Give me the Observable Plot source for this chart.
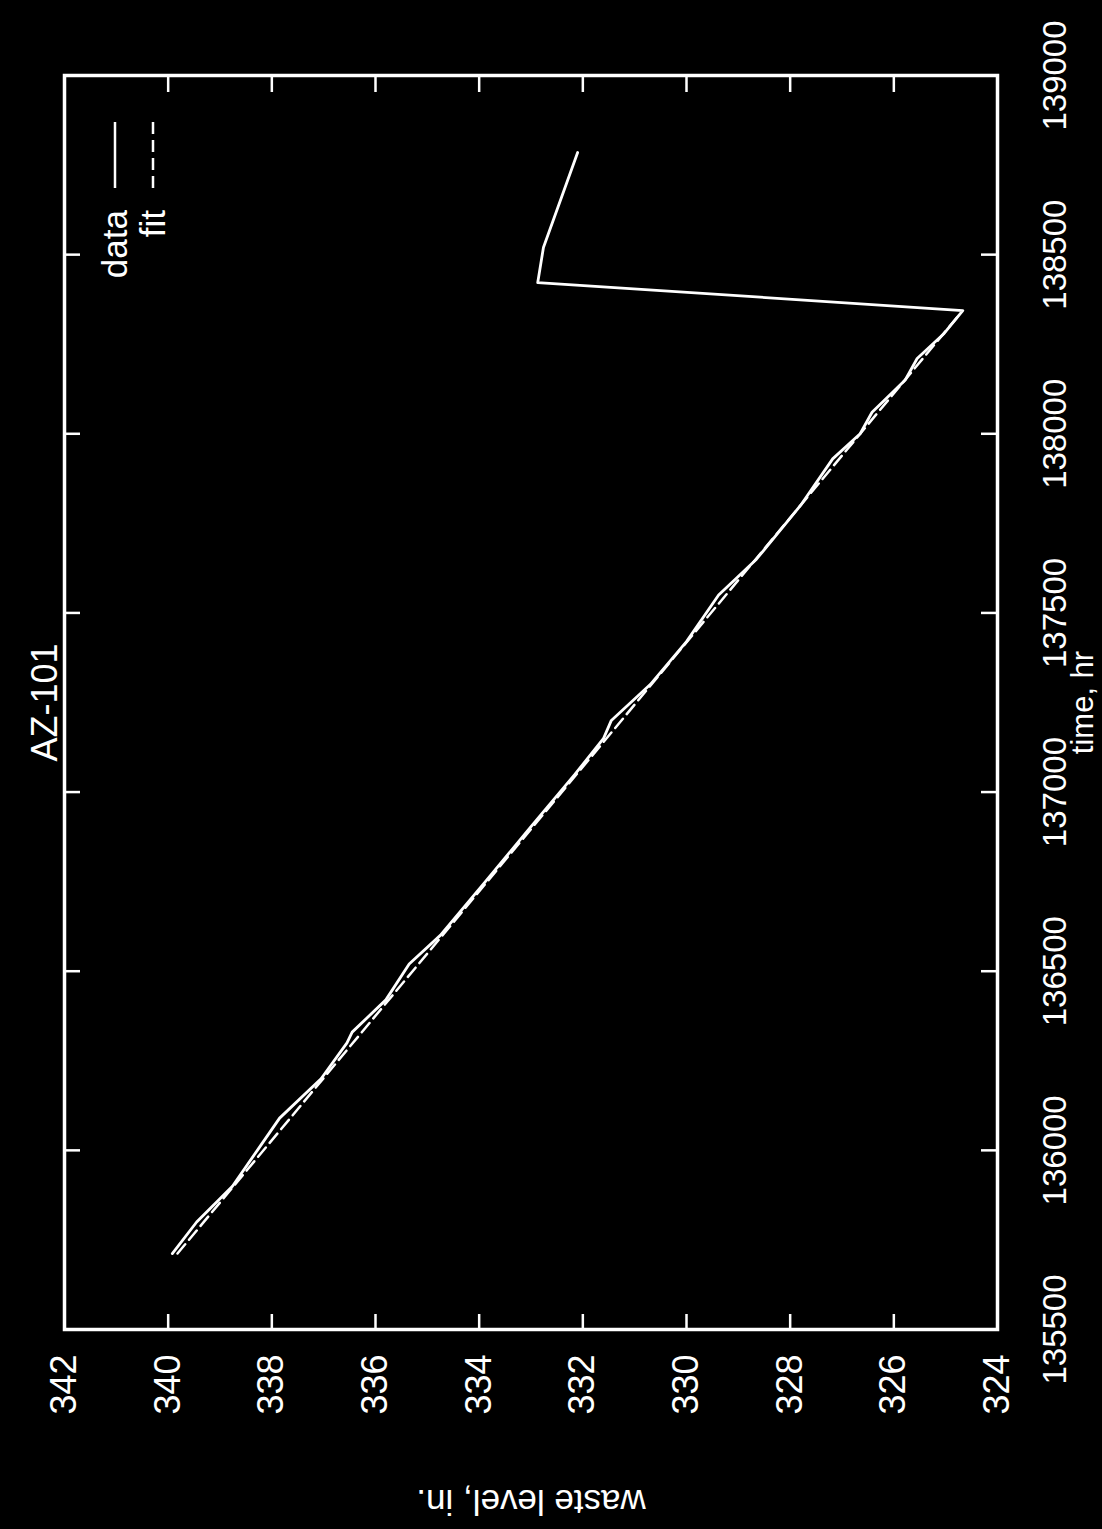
<!DOCTYPE html>
<html>
<head>
<meta charset="utf-8">
<script src="https://cdn.jsdelivr.net/npm/d3@7"></script>
<script src="https://cdn.jsdelivr.net/npm/@observablehq/plot@0.6"></script>
<style>
  html, body { margin: 0; padding: 0; background: #000; }
  #page { position: relative; width: 1102px; height: 1529px; overflow: hidden; background: #000; }
  /* the chart is laid out landscape and turned a quarter turn counter-clockwise */
  #chart { position: absolute; left: 0; top: 0; width: 1529px; height: 1102px; transform-origin: 0 0; transform: translate(0, 1529px) rotate(-90deg); }
  #chart svg { max-width: none !important; width: 1529px; height: 1102px; display: block; overflow: visible; }
</style>
</head>
<body>
<div id="page"><div id="chart"></div></div>
<script>
// Tank AZ-101 waste level record and its linear fit
const title = "AZ-101";
const xLabel = "time, hr";
const yLabel = "waste level, in.";

const timeTicks = [135500, 136000, 136500, 137000, 137500, 138000, 138500, 139000];
const levelTicks = [324, 326, 328, 330, 332, 334, 336, 338, 340, 342];

// measured level (hr, in.)
const dataTime = [135712, 135800, 135900, 136000, 136090, 136200, 136300, 136330, 136420, 136520,
  136600, 136750, 136900, 137050, 137150, 137200, 137300, 137420, 137550, 137650,
  137800, 137930, 138000, 138060, 138150, 138210, 138280, 138344, 138422, 138520, 138785];
const dataLevel = [339.92, 339.45, 338.76, 338.28, 337.85, 337.05, 336.55, 336.45, 335.80, 335.35,
  334.75, 333.88, 333.02, 332.15, 331.60, 331.45, 330.70, 330.00, 329.38, 328.65,
  327.80, 327.18, 326.65, 326.42, 325.78, 325.55, 325.03, 324.67, 332.87, 332.76, 332.10];

// straight-line fit over the falling stretch
const fitTime = [135712, 138330];
const fitLevel = [339.82, 324.75];

const legendItems = ["data", "fit"];
const legendDash = [null, "12,6"];

const data = dataTime.map((t, i) => ({t, level: dataLevel[i]}));
const fit = fitTime.map((t, i) => ({t, level: fitLevel[i]}));

const W = 1529, H = 1102;
const M = {top: 64, right: 76, bottom: 105, left: 199};
const frameW = W - M.left - M.right;
const frameH = H - M.top - M.bottom;
const tickLen = 16;
const ink = "#fff";
const font = "'Liberation Sans', Arial, Helvetica, sans-serif";

// legend drawn in the top-right corner of the frame
function legend(index, scales, values, dims) {
  const g = d3.create("svg:g");
  const right = dims.width - dims.marginRight;
  const top = dims.marginTop;
  legendItems.forEach((name, i) => {
    const y = top + 51 + i * 38;
    g.append("text")
      .attr("x", right - 134).attr("y", y)
      .attr("text-anchor", "end").attr("dy", "0.35em")
      .attr("fill", ink).attr("font-size", 35).attr("font-family", font)
      .text(name);
    g.append("line")
      .attr("x1", right - 112).attr("x2", right - 46)
      .attr("y1", y).attr("y2", y)
      .attr("stroke", ink).attr("stroke-width", 2.5)
      .attr("stroke-dasharray", legendDash[i]);
  });
  return g.node();
}

const chart = Plot.plot({
  width: W,
  height: H,
  marginTop: M.top,
  marginRight: M.right,
  marginBottom: M.bottom,
  marginLeft: M.left,
  style: {background: "#000", color: ink, fontFamily: font, fontSize: "34px", overflow: "visible"},
  x: {domain: [135500, 139000]},
  y: {domain: [324, 342]},
  marks: [
    // inward ticks on all four sides
    Plot.ruleX(timeTicks, {x: d => d, insetTop: frameH - tickLen, stroke: ink, strokeWidth: 2.5}),
    Plot.ruleX(timeTicks, {x: d => d, insetBottom: frameH - tickLen, stroke: ink, strokeWidth: 2.5}),
    Plot.ruleY(levelTicks, {y: d => d, insetRight: frameW - tickLen, stroke: ink, strokeWidth: 2.5}),
    Plot.ruleY(levelTicks, {y: d => d, insetLeft: frameW - tickLen, stroke: ink, strokeWidth: 2.5}),
    Plot.axisX(timeTicks, {tickSize: 0, tickPadding: 45, tickFormat: "d", fontSize: 33, label: null}),
    Plot.axisY(levelTicks, {tickSize: 0, tickPadding: 25, tickFormat: "d", fontSize: 36, label: null}),
    Plot.line(fit, {x: "t", y: "level", stroke: ink, strokeWidth: 2.5, strokeDasharray: "12,6"}),
    Plot.line(data, {x: "t", y: "level", stroke: ink, strokeWidth: 2.8}),
    Plot.frame({stroke: ink, strokeWidth: 3.5}),
    Plot.text([title], {frameAnchor: "top", dy: -19, lineAnchor: "middle", fontSize: 36, fill: ink}),
    Plot.text([xLabel], {frameAnchor: "bottom", dy: 86, lineAnchor: "middle", fontSize: 31, fill: ink}),
    Plot.text([yLabel], {frameAnchor: "left", dx: -172, rotate: -90, textAnchor: "middle", lineAnchor: "middle", fontSize: 35, fill: ink}),
    legend
  ]
});

document.getElementById("chart").appendChild(chart);
</script>
</body>
</html>
